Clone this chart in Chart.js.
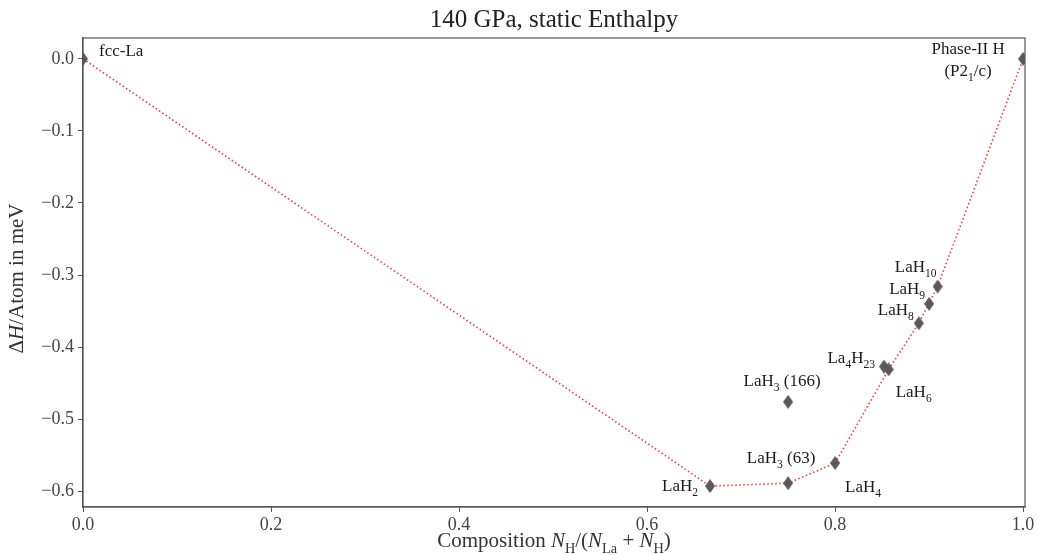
<!DOCTYPE html>
<html>
<head>
<meta charset="utf-8">
<script src="https://cdn.jsdelivr.net/npm/chart.js@4.4.0/dist/chart.umd.min.js"></script>
<style>
  body { margin: 0; background: #fff; }
  #wrap { width: 1037px; height: 555px; }
</style>
</head>
<body>
<div id="wrap"><canvas id="chart" width="1037" height="555"></canvas></div>
<script>
// compounds, composition N_H/(N_La+N_H) and enthalpy (meV/atom scale as in plot)
const names = ['fcc-La', 'LaH_2', 'LaH_3 (63)', 'LaH_3 (166)', 'LaH_4', 'La_4H_{23}', 'LaH_6', 'LaH_8', 'LaH_9', 'LaH_{10}', 'Phase-II H'];
const composition = [0, 0.667, 0.75, 0.75, 0.8, 0.852, 0.857, 0.889, 0.9, 0.909, 1.0];
const enthalpy = [0, -0.593, -0.589, -0.476, -0.561, -0.427, -0.431, -0.367, -0.340, -0.316, 0];
// which compounds lie on the convex hull
const hullNames = ['fcc-La', 'LaH_2', 'LaH_3 (63)', 'LaH_4', 'LaH_6', 'LaH_8', 'LaH_{10}', 'Phase-II H'];
const xTicks = [0, 0.2, 0.4, 0.6, 0.8, 1.0];
const yTicks = [0, -0.1, -0.2, -0.3, -0.4, -0.5, -0.6];

// label placement (pixels from the marker) and alignment
const labelPos = {
	'fcc-La': [16, -7, 'left'],
	'LaH_2': [-12, 0, 'right'],
	'LaH_3 (63)': [-7, -25, 'center'],
	'LaH_3 (166)': [-6, -20, 'center'],
	'LaH_4': [10, 24, 'left'],
	'La_4H_{23}': [-9, -8, 'right'],
	'LaH_6': [7, 23, 'left'],
	'LaH_8': [-5, -13, 'right'],
	'LaH_9': [-4, -14, 'right'],
	'LaH_{10}': [-1, -19, 'right'],
	'Phase-II H': [-55, -9, 'center']
};

const SERIF = '"Liberation Serif", "DejaVu Serif", serif';

// parse "LaH_{10}" / "$N$" into segments
function parse(str) {
	const segs = [];
	const re = /_\{([^}]*)\}|_(.)|\$([^$]*)\$|([^_$]+)/g;
	let m;
	while ((m = re.exec(str)) !== null) {
		if (m[1] !== undefined) segs.push({t: m[1], sub: true});
		else if (m[2] !== undefined) segs.push({t: m[2], sub: true});
		else if (m[3] !== undefined) segs.push({t: m[3], it: true});
		else segs.push({t: m[4]});
	}
	return segs;
}

function drawRich(ctx, str, x, y, align, size, color) {
	const segs = parse(str);
	const fontOf = s => (s.it ? 'italic ' : '') + (s.sub ? size * 0.68 : size) + 'px ' + SERIF;
	let w = 0;
	segs.forEach(s => { ctx.font = fontOf(s); s.w = ctx.measureText(s.t).width; w += s.w; });
	let cx = align === 'left' ? x : align === 'right' ? x - w : x - w / 2;
	ctx.fillStyle = color;
	ctx.textBaseline = 'middle';
	ctx.textAlign = 'left';
	segs.forEach(s => {
		ctx.font = fontOf(s);
		ctx.fillText(s.t, cx, s.sub ? y + size * 0.38 : y);
		cx += s.w;
	});
}

// thin diamond marker like matplotlib 'd'
const diamond = document.createElement('canvas');
diamond.width = 10; diamond.height = 14;
(function () {
	const c = diamond.getContext('2d');
	c.fillStyle = '#595959';
	c.beginPath();
	c.moveTo(5, 0); c.lineTo(10, 7); c.lineTo(5, 14); c.lineTo(0, 7);
	c.closePath();
	c.fill();
})();

const points = names.map((n, i) => ({x: composition[i], y: enthalpy[i]}));
const hull = names.map((n, i) => ({x: composition[i], y: enthalpy[i], n: n}))
	.filter(p => hullNames.includes(p.n));

const decor = {
	id: 'decor',
	afterDatasetsDraw(chart) {
		const ctx = chart.ctx;
		const a = chart.chartArea;
		const xs = chart.scales.x, ys = chart.scales.y;
		ctx.save();
		// frame
		ctx.strokeStyle = '#555';
		ctx.lineWidth = 1.2;
		ctx.strokeRect(a.left, a.top, a.right - a.left, a.bottom - a.top);
		// point labels
		names.forEach((n, i) => {
			const p = labelPos[n];
			const px = xs.getPixelForValue(composition[i]);
			const py = ys.getPixelForValue(enthalpy[i]);
			drawRich(ctx, n, px + p[0], py + p[1], p[2], 17, '#1a1a1a');
			if (n === 'Phase-II H') drawRich(ctx, '(P2_1/c)', px + p[0], py + p[1] + 22, p[2], 17, '#1a1a1a');
		});
		// title
		drawRich(ctx, '140 GPa, static Enthalpy', (a.left + a.right) / 2, 20, 'center', 25, '#222');
		// x title
		drawRich(ctx, 'Composition $N$_H/($N$_{La} + $N$_H)', (a.left + a.right) / 2, 541, 'center', 21, '#333');
		// y title
		ctx.translate(17, (a.top + a.bottom) / 2 + 6);
		ctx.rotate(-Math.PI / 2);
		drawRich(ctx, 'Δ$H$/Atom in meV', 0, 0, 'center', 21, '#333');
		ctx.restore();
	}
};

const fmt = v => Math.abs(v) < 1e-9 ? '0.0' : v.toFixed(1).replace('-', '\u2212');

const config = {
	type: 'scatter',
	data: {
		datasets: [
			{
				data: points,
				pointStyle: diamond,
				pointRadius: 6,
				order: 0
			},
			{
				data: hull,
				showLine: true,
				pointRadius: 0,
				borderColor: 'rgba(255, 30, 30, 0.9)',
				borderWidth: 1.6,
				borderDash: [1.5, 2.5],
				order: 1
			}
		]
	},
	options: {
		responsive: false,
		animation: false,
		layout: { padding: { top: 38, right: 12, left: 0, bottom: 0 } },
		plugins: { legend: { display: false }, tooltip: { enabled: false } },
		scales: {
			x: {
				type: 'linear',
				min: 0,
				max: 1.002,
				afterFit: s => { s.height = 48; },
				afterBuildTicks: s => { s.ticks = xTicks.map(v => ({value: v})); },
				grid: { drawOnChartArea: false, tickLength: 5, color: '#555' },
				border: { color: '#555', width: 1.2 },
				ticks: { padding: 2, color: '#444', font: { family: SERIF, size: 18 }, callback: fmt, maxRotation: 0 }
			},
			y: {
				min: -0.622,
				max: 0.029,
				afterFit: s => { s.width = 83; },
				afterBuildTicks: s => { s.ticks = yTicks.map(v => ({value: v})); },
				grid: { drawOnChartArea: false, tickLength: 5, color: '#555' },
				border: { color: '#555', width: 1.2 },
				ticks: { padding: 4, color: '#444', font: { family: SERIF, size: 18 }, callback: fmt }
			}
		}
	},
	plugins: [decor]
};

window.addEventListener('load', () => {
	new Chart(document.getElementById('chart').getContext('2d'), config);
});
</script>
</body>
</html>
